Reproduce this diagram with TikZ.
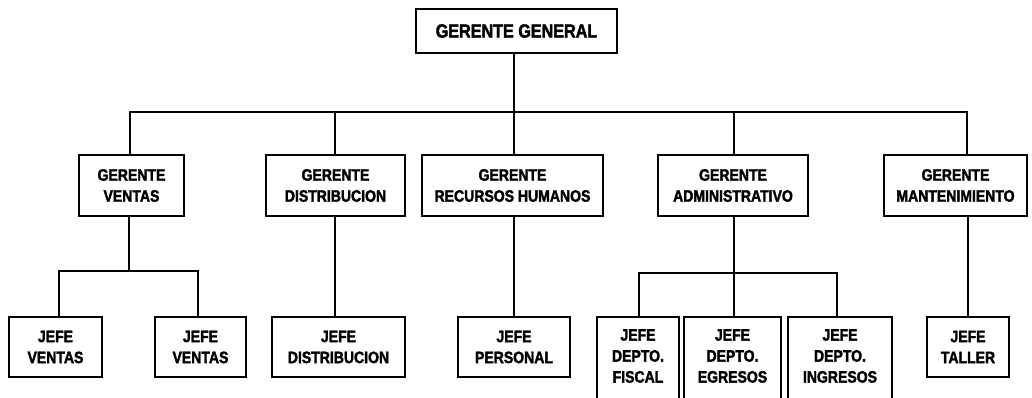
\documentclass[tikz,border=0pt]{standalone}
\usepackage{fontspec}
\newfontfamily\orgfont{Liberation Sans}[FakeStretch=0.85, BoldFeatures={FakeBold=2}]
\begin{document}
\begin{tikzpicture}[x=1pt,y=1pt,
  box/.style={draw, line width=2.6pt, align=center, inner sep=0pt,
    font=\orgfont\bfseries\fontsize{16.5}{21}\selectfont},
  topbox/.style={box, font=\orgfont\bfseries\fontsize{19}{22}\selectfont},
  lbl/.style={align=center, inner sep=0pt,
    font=\orgfont\bfseries\fontsize{16.5}{21}\selectfont},
  wire/.style={line width=2.6pt}]
\useasboundingbox (0,0) rectangle (1032,398);

% director
\node[topbox, minimum width=201pt, minimum height=44pt] (top) at (516.5,367) {GERENTE GENERAL};

% managers
\node[box, minimum width=105pt, minimum height=61pt] (gv) at (131.5,212.5) {GERENTE\\VENTAS};
\node[box, minimum width=139pt, minimum height=61pt] (gd) at (335.5,212.5) {GERENTE\\DISTRIBUCION};
\node[box, minimum width=181pt, minimum height=61pt] (gr) at (512.5,212.5) {GERENTE\\RECURSOS HUMANOS};
\node[box, minimum width=150pt, minimum height=61pt] (ga) at (733,212.5) {GERENTE\\ADMINISTRATIVO};
\node[box, minimum width=143pt, minimum height=61pt] (gm) at (955.5,212.5) {GERENTE\\MANTENIMIENTO};

% heads
\node[box, minimum width=93pt, minimum height=60pt] (jv1) at (55.5,51) {JEFE\\VENTAS};
\node[box, minimum width=91pt, minimum height=60pt] (jv2) at (200.5,51) {JEFE\\VENTAS};
\node[box, minimum width=133pt, minimum height=60pt] (jd) at (338.5,51) {JEFE\\DISTRIBUCION};
\node[box, minimum width=112pt, minimum height=60pt] (jp) at (514,51) {JEFE\\PERSONAL};
\node[box, minimum width=82pt, minimum height=60pt] (jt) at (968,51) {JEFE\\TALLER};

% department heads (boxes run past the lower edge)
\node[box, minimum width=82pt, minimum height=110pt] (df) at (638,26) {};
\node[box, minimum width=97pt, minimum height=110pt] (de) at (732.5,26) {};
\node[box, minimum width=104pt, minimum height=110pt] (di) at (840,26) {};
\node[lbl] (dft) at (638,42) {JEFE\\DEPTO.\\FISCAL};
\node[lbl] (det) at (732.5,42) {JEFE\\DEPTO.\\EGRESOS};
\node[lbl] (dit) at (840,42) {JEFE\\DEPTO.\\INGRESOS};

% bus levels
\coordinate (bus) at (0,286);
\coordinate (busv) at (0,127);
\coordinate (busa) at (0,125);

% director to managers
\draw[wire] ([xshift=-2.5pt]top.south) -- ([xshift=-2.5pt]top.south |- bus);
\draw[wire] ([xshift=-1.5pt]gv.north) -- ([xshift=-1.5pt]gv.north |- bus)
  -- ([xshift=11.5pt]gm.north |- bus) -- ([xshift=11.5pt]gm.north);
\draw[wire] ([xshift=-0.5pt]gd.north) -- ([xshift=-0.5pt]gd.north |- bus);
\draw[wire] ([xshift=1.5pt]gr.north) -- ([xshift=1.5pt]gr.north |- bus);
\draw[wire] ([xshift=1pt]ga.north) -- ([xshift=1pt]ga.north |- bus);

% sales
\draw[wire] ([xshift=-2.5pt]gv.south) -- ([xshift=-2.5pt]gv.south |- busv);
\draw[wire] ([xshift=3.5pt]jv1.north) -- ([xshift=3.5pt]jv1.north |- busv)
  -- ([xshift=-2.5pt]jv2.north |- busv) -- ([xshift=-2.5pt]jv2.north);

% distribution, personnel
\draw[wire] ([xshift=-0.5pt]gd.south) -- ([xshift=-0.5pt]gd.south |- jd.north);
\draw[wire] ([xshift=1.5pt]gr.south) -- ([xshift=1.5pt]gr.south |- jp.north);

% administration
\draw[wire] ([xshift=1pt]ga.south) -- ([xshift=1pt]ga.south |- busa);
\draw[wire] ([xshift=1pt]df.north) -- ([xshift=1pt]df.north |- busa)
  -- ([xshift=-3pt]di.north |- busa) -- ([xshift=-3pt]di.north);
\draw[wire] ([xshift=1.5pt]de.north) -- ([xshift=1.5pt]de.north |- busa);

% maintenance
\draw[wire] ([xshift=12.5pt]gm.south) -- (jt.north);
\end{tikzpicture}
\end{document}
